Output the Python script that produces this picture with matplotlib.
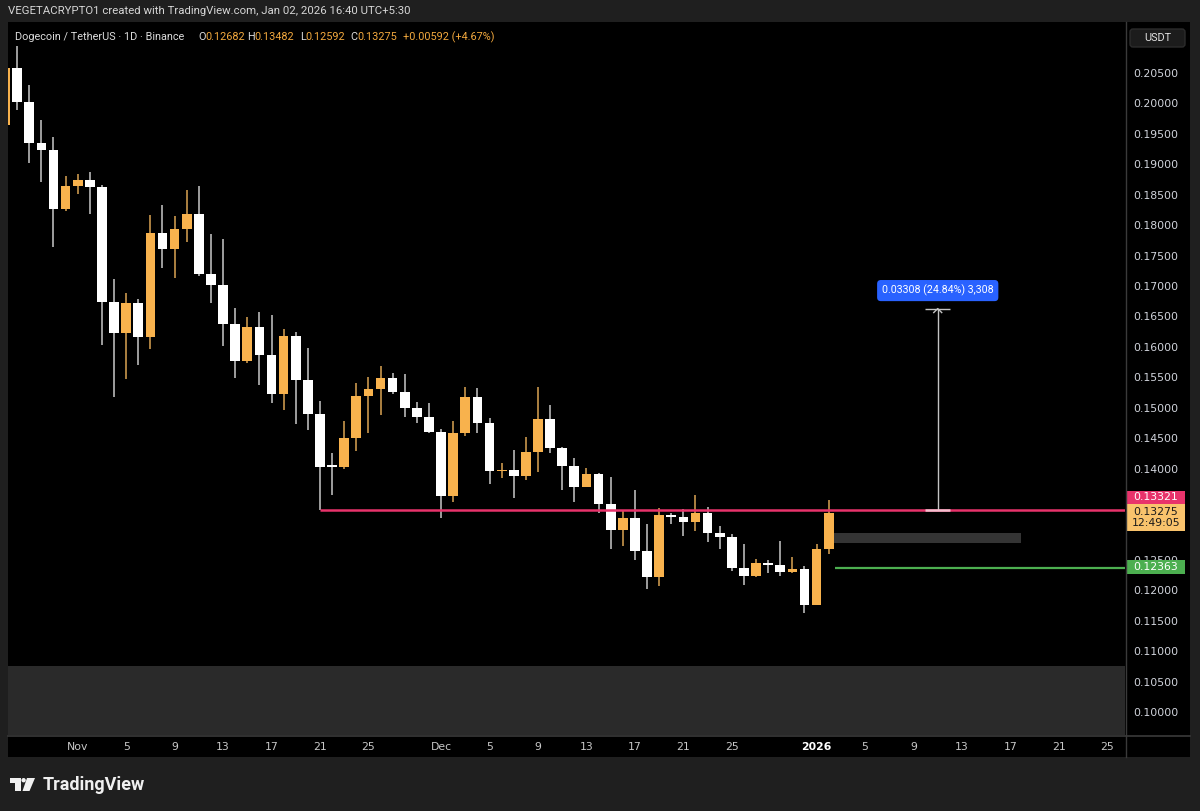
import matplotlib
matplotlib.use("Agg")
import matplotlib.pyplot as plt
import matplotlib.dates as mdates
import matplotlib.transforms as mtransforms
from matplotlib.patches import Rectangle, Polygon, Circle, FancyBboxPatch
from matplotlib.lines import Line2D
import pandas as pd

# ---------------- data ----------------
dates = pd.date_range("2025-10-26", "2026-01-02", freq="D")

opens = [0.19646, 0.20577, 0.20028, 0.19355, 0.19235, 0.18260,
         0.18643, 0.18737, 0.18632, 0.16742, 0.16223, 0.16716, 0.16167, 0.17876, 0.17603, 0.17932,
         0.18183, 0.17202, 0.17016, 0.16381, 0.15768, 0.16321, 0.15861, 0.15220, 0.16178, 0.15455,
         0.14897, 0.14040, 0.14031, 0.14507, 0.15193, 0.15308, 0.15483, 0.15263, 0.14997, 0.14842,
         0.14606, 0.13554, 0.14580, 0.15171, 0.14754, 0.13960, 0.13975, 0.13878, 0.14277, 0.14810,
         0.14333, 0.14042, 0.13702, 0.13911, 0.13418, 0.12991, 0.13193, 0.12646, 0.12223, 0.13237,
         0.13209, 0.13117, 0.13275, 0.12946, 0.12871, 0.12371, 0.12235, 0.12453, 0.12410, 0.12296,
         0.12355, 0.11758, 0.12682]
highs = [0.20650, 0.20944, 0.20303, 0.19728, 0.19453, 0.18812,
         0.18835, 0.18878, 0.18660, 0.17115, 0.16880, 0.16781, 0.18167, 0.18331, 0.18155, 0.18577,
         0.18643, 0.17854, 0.17767, 0.16634, 0.16496, 0.16568, 0.16523, 0.16293, 0.16249, 0.15976,
         0.15110, 0.14251, 0.14787, 0.15411, 0.15510, 0.15685, 0.15566, 0.15554, 0.15099, 0.15073,
         0.14645, 0.14787, 0.15345, 0.15329, 0.14836, 0.14087, 0.14305, 0.14514, 0.15335, 0.15045,
         0.14359, 0.14169, 0.14014, 0.13932, 0.13857, 0.13308, 0.13648, 0.13089, 0.13347, 0.13265,
         0.13336, 0.13566, 0.13373, 0.13056, 0.12925, 0.12760, 0.12509, 0.12498, 0.12815, 0.12552,
         0.12399, 0.12760, 0.13482]
lows = [0.19580, 0.19892, 0.19016, 0.18714, 0.17646, 0.18237,
        0.18512, 0.18178, 0.16031, 0.15171, 0.15467, 0.15702, 0.15965, 0.17301, 0.17136, 0.17728,
        0.17164, 0.16726, 0.16014, 0.15483, 0.15730, 0.15373, 0.15073, 0.14962, 0.14727, 0.14634,
        0.13321, 0.13566, 0.13988, 0.14294, 0.14589, 0.14880, 0.15220, 0.14842, 0.14744, 0.14585,
        0.13193, 0.13456, 0.14535, 0.14580, 0.13742, 0.13850, 0.13512, 0.13812, 0.13949, 0.14251,
        0.13648, 0.13446, 0.13690, 0.13275, 0.12678, 0.12733, 0.12498, 0.12016, 0.12075, 0.13089,
        0.12892, 0.12979, 0.12798, 0.12673, 0.12322, 0.12087, 0.12213, 0.12289, 0.12235, 0.12279,
        0.11632, 0.11750, 0.12592]
closes = [0.20577, 0.20028, 0.19355, 0.19235, 0.18260, 0.18643,
          0.18737, 0.18632, 0.16742, 0.16223, 0.16716, 0.16167, 0.17876, 0.17603, 0.17932, 0.18183,
          0.17202, 0.17016, 0.16381, 0.15768, 0.16321, 0.15861, 0.15220, 0.16178, 0.15455, 0.14897,
          0.14031, 0.14031, 0.14507, 0.15193, 0.15308, 0.15483, 0.15263, 0.14997, 0.14842, 0.14606,
          0.13554, 0.14580, 0.15171, 0.14754, 0.13960, 0.13975, 0.13878, 0.14277, 0.14810, 0.14333,
          0.14042, 0.13702, 0.13911, 0.13418, 0.12991, 0.13193, 0.12646, 0.12223, 0.13237, 0.13209,
          0.13117, 0.13275, 0.12946, 0.12871, 0.12371, 0.12235, 0.12453, 0.12410, 0.12296, 0.12355,
          0.11758, 0.12682, 0.13275]

resistance = 0.13321
resistance_start = "2025-11-21"
support = 0.12363
support_start = "2026-01-02"
zone_low, zone_high = 0.12777, 0.12941
zone_start, zone_end = "2026-01-02", "2026-01-17"
measure_date = "2026-01-11"
measure_top = 0.16629
measure_text = "0.03308 (24.84%) 3,308"
last_price = 0.13275
countdown = "12:49:05"

price_ticks = [0.100, 0.105, 0.110, 0.115, 0.120, 0.125, 0.130, 0.135, 0.140, 0.145, 0.150,
               0.155, 0.160, 0.165, 0.170, 0.175, 0.180, 0.185, 0.190, 0.195, 0.200, 0.205]
hidden_ticks = [0.130, 0.135]   # covered by the price tags in the reference
time_ticks = ["2025-11-01", "2025-11-05", "2025-11-09", "2025-11-13", "2025-11-17", "2025-11-21",
              "2025-11-25", "2025-12-01", "2025-12-05", "2025-12-09", "2025-12-13", "2025-12-17",
              "2025-12-21", "2025-12-25", "2026-01-01", "2026-01-05", "2026-01-09", "2026-01-13",
              "2026-01-17", "2026-01-21", "2026-01-25"]
time_labels = ["Nov", "5", "9", "13", "17", "21", "25", "Dec", "5", "9", "13", "17", "21", "25",
               "2026", "5", "9", "13", "17", "21", "25"]

header = "VEGETACRYPTO1 created with TradingView.com, Jan 02, 2026 16:40 UTC+5:30"

# ---------------- style ----------------
W, H = 1200, 811
BG = "#1f1f1f"
UP = "#f8b24d"
DOWN = "#ffffff"
UP_WICK = "#c9974c"
DOWN_WICK = "#b8b8b8"
PINK = "#e8336b"
GREEN = "#4caf50"
TXT = "#d1d4dc"
FONT = ["Roboto", "DejaVu Sans"]

fig = plt.figure(figsize=(W / 100, H / 100), dpi=100, facecolor=BG)
ident = mtransforms.IdentityTransform()

def dy(y_img):
    return H - y_img

# black chart panel
fig.patches.append(Rectangle((8, dy(757)), 1182, 735, transform=ident,
                             facecolor="#000000", edgecolor="none", zorder=-5))

ax = fig.add_axes([8 / W, (H - 735) / H, 1117 / W, 713 / H])
ax.set_facecolor("#000000")
for s in ax.spines.values():
    s.set_visible(False)

x = mdates.date2num(dates)
nov1 = mdates.date2num(pd.Timestamp("2025-11-01"))
ax.set_xlim(nov1 - 5.754, nov1 + 86.46)
ymin, ymax = 0.09622, 0.21338
ax.set_ylim(ymin, ymax)
ppp = (ymax - ymin) / 713.0  # price per pixel

# bottom gray band
ax.add_patch(Rectangle((0, 0), 1, 69 / 713, transform=ax.transAxes,
                       facecolor="#2a2a2a", edgecolor="none", zorder=0))

# candles
up = [c >= o for o, c in zip(opens, closes)]
body_col = [UP if u else DOWN for u in up]
wick_col = [UP_WICK if u else DOWN_WICK for u in up]
bottoms = [min(o, c) for o, c in zip(opens, closes)]
heights = [max(abs(c - o), 1.4 * ppp) for o, c in zip(opens, closes)]
ax.vlines(x, lows, highs, colors=wick_col, linewidth=1.2, zorder=3)
ax.bar(x, heights, bottom=bottoms, width=0.8, color=body_col, linewidth=0, zorder=4)

# horizontal levels
xr = ax.get_xlim()[1]
rs = mdates.date2num(pd.Timestamp(resistance_start))
ax.hlines(resistance, rs, xr, colors=PINK, linewidth=1.8, zorder=5)
ss = mdates.date2num(pd.Timestamp(support_start)) + 0.55
ax.hlines(support, ss, xr, colors=GREEN, linewidth=1.6, zorder=5)

# zone
zs = mdates.date2num(pd.Timestamp(zone_start)) + 0.38
ze = mdates.date2num(pd.Timestamp(zone_end)) + 0.9
ax.add_patch(Rectangle((zs, zone_low), ze - zs, zone_high - zone_low,
                       facecolor="#343434", edgecolor="none", zorder=2))

# measure arrow
md = mdates.date2num(pd.Timestamp(measure_date))
ax.vlines(md, resistance, measure_top, colors="#c4c4c4", linewidth=1.0, zorder=6)
ax.hlines(measure_top, md - 1.03, md + 1.03, colors="#c4c4c4", linewidth=1.0, zorder=6)
ax.hlines(resistance, md - 1.03, md + 1.03, colors="#f4c0cf", linewidth=1.8, zorder=6)
ax.plot([md - 0.33, md, md + 0.33], [measure_top - 4 * ppp, measure_top, measure_top - 4 * ppp],
        color="#c4c4c4", linewidth=1.0, zorder=6)
ax.text(md, measure_top + 18 * ppp, measure_text, ha="center", va="center", color="white",
        fontsize=7.7, family=FONT, zorder=8,
        bbox=dict(boxstyle="round,pad=0.45,rounding_size=0.35", fc="#2962ff", ec="none"))

# axes ticks
ax.yaxis.tick_right()
ax.set_yticks(price_ticks)
ax.set_yticklabels(["" if any(abs(p - h) < 1e-9 for h in hidden_ticks) else f"{p:.5f}"
                    for p in price_ticks])
ax.tick_params(axis="y", length=0, pad=6, labelsize=7.8, labelcolor=TXT)
ax.set_xticks([mdates.date2num(pd.Timestamp(d)) for d in time_ticks])
ax.set_xticklabels(time_labels)
ax.tick_params(axis="x", length=0, pad=5, labelsize=7.8, labelcolor="#c8c8c8")
for lab in ax.get_xticklabels():
    if lab.get_text() == "2026":
        lab.set_fontweight("bold")
        lab.set_color("white")

# price-axis labels
bt = mtransforms.blended_transform_factory(ax.transAxes, ax.transData)
axw = 1117.0

def price_tag(price, shift_px, h_px, text, fc, tc):
    yc = price + shift_px * ppp
    ax.add_patch(Rectangle((1 + 2 / axw, yc - h_px / 2 * ppp), 58 / axw, h_px * ppp,
                           transform=bt, facecolor=fc, edgecolor="none", zorder=20,
                           clip_on=False))
    ax.text(1 + 31 / axw, yc, text, transform=bt, ha="center", va="center", color=tc,
            fontsize=7.8, zorder=21, clip_on=False, linespacing=1.15)

price_tag(resistance, 12.5, 13, f"{resistance:.5f}", PINK, "white")
price_tag(last_price, -4.8, 27, f"{last_price:.5f}\n{countdown}", "#f9c36c", "#1a1a1a")
price_tag(support, 1.0, 14, f"{support:.5f}", GREEN, "white")

# separators
fig.lines.append(Line2D([1125.5, 1125.5], [dy(22), dy(757)], transform=ident,
                        color="#3a3a3a", linewidth=1, zorder=5))
fig.lines.append(Line2D([8, 1190], [dy(735.5), dy(735.5)], transform=ident,
                        color="#3a3a3a", linewidth=1.2, zorder=5))

# USDT box
fig.patches.append(FancyBboxPatch((1130, dy(47)), 55, 18, transform=ident,
                                  boxstyle="round,pad=0,rounding_size=3",
                                  facecolor="#1c1c1c", edgecolor="#2c2c2c", zorder=5))
fig.text(1157.5, dy(38), "USDT", transform=ident, ha="center", va="center",
         color="#e0e0e0", fontsize=7.8, family=FONT, zorder=6)

# header
fig.text(8, dy(11), header, transform=ident, ha="left", va="center",
         color="#d6d6d6", fontsize=8.2, family=FONT)

orange_txt = "#f3a93e"
white_txt = "#dcdcdc"
segments = [("Dogecoin / TetherUS · 1D · Binance", 15, white_txt),
            ("O", 198, white_txt), ("0.12682", 205, orange_txt),
            ("H", 247, white_txt), ("0.13482", 254, orange_txt),
            ("L", 300, white_txt), ("0.12592", 305, orange_txt),
            ("C", 350, white_txt), ("0.13275", 357, orange_txt),
            ("+0.00592 (+4.67%)", 403, orange_txt)]
for t, px, col in segments:
    fig.text(px, dy(37), t, transform=ident, ha="left", va="center", color=col,
             fontsize=7.8, family=FONT)

# TradingView logo
logo_c = "#f0f0f0"
fig.patches.append(Rectangle((10, dy(782.5)), 10.7, 4.5, transform=ident, fc=logo_c, ec="none"))
fig.patches.append(Rectangle((15, dy(791)), 5.7, 13, transform=ident, fc=logo_c, ec="none"))
fig.patches.append(Circle((23.6, dy(780.2)), 2.2, transform=ident, fc=logo_c, ec="none"))
fig.patches.append(Polygon([(27, dy(778)), (35, dy(778)), (29.5, dy(791)), (22.5, dy(791))],
                           closed=True, transform=ident, fc=logo_c, ec="none"))
fig.text(43, dy(785), "TradingView", transform=ident, ha="left", va="center",
         color=logo_c, fontsize=13, fontweight="semibold", family=FONT)

fig.savefig("out.png", dpi=100, facecolor=BG)
